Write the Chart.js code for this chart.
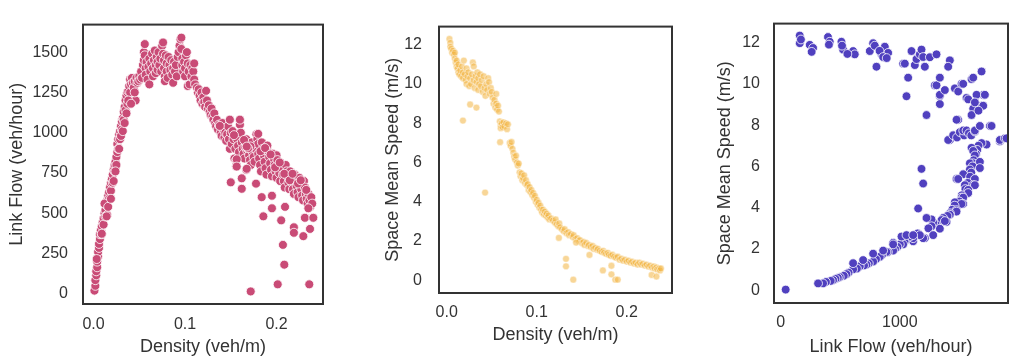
<!DOCTYPE html>
<html>
<head>
<meta charset="utf-8">
<script src="https://cdn.jsdelivr.net/npm/chart.js@4.4.1/dist/chart.umd.min.js"></script>
<style>
  html, body { margin: 0; padding: 0; background: #fff; width: 1010px; height: 358px; overflow: hidden; }
  .panel { position: absolute; top: 0; width: 340px; height: 358px; }
</style>
</head>
<body>
<div class="panel" style="left:0"><canvas id="flowDensity" width="340" height="358"></canvas></div>
<div class="panel" style="left:340px"><canvas id="speedDensity" width="340" height="358"></canvas></div>
<div class="panel" style="left:680px"><canvas id="speedFlow" width="340" height="358"></canvas></div>
<script>
// ---- data: density (veh/m) vs link flow (veh/hour) ----
const flowRising = [
  [0.001,20],[0.002,50],[0.002,85],[0.003,115],[0.003,140],[0.004,165],[0.004,200],[0.005,230],[0.005,260],
  [0.006,285],[0.006,310],[0.007,340],[0.007,370],[0.008,395],[0.009,370],[0.009,420],[0.010,445],[0.011,470],
  [0.011,430],[0.012,500],[0.013,520],[0.013,480],[0.014,550],[0.015,580],[0.015,490],[0.016,610],[0.017,630],
  [0.017,590],[0.018,660],[0.019,640],[0.019,690],[0.020,710],[0.021,740],[0.021,690],[0.022,770],[0.023,800],
  [0.023,760],[0.024,820],[0.025,850],[0.025,800],[0.026,880],[0.026,930],[0.027,960],[0.027,900],[0.028,990],
  [0.029,1010],[0.029,960],[0.030,1040],[0.031,1020],[0.031,1070],[0.032,1090],[0.033,1080],[0.033,1130],
  [0.034,1160],[0.035,1140],[0.035,1200],[0.036,1230],[0.037,1180],[0.037,1250],[0.038,1260],[0.039,1290],
  [0.040,1330],[0.040,1250],[0.041,1300],[0.042,1340],[0.043,1310],[0.044,1280],[0.045,1320],[0.046,1200],
  [0.047,1340],[0.048,1310],[0.049,1320],[0.050,1350],[0.051,1330],[0.052,1380],[0.053,1340],
  [0.0035,216],[0.009,373],[0.0144,481],[0.012,560],[0.016,540],[0.019,590],[0.022,700],[0.024,760],
  [0.028,900],[0.030,980],[0.032,1010],[0.034,1060],[0.036,1120],[0.038,1200],[0.041,1180],[0.045,1250]
];
const flowPeak = [
  [0.054,1420],[0.055,1450],[0.055,1500],[0.056,1550],[0.056,1480],[0.057,1400],[0.057,1360],[0.058,1440],
  [0.059,1330],[0.060,1410],[0.061,1300],[0.061,1460],[0.062,1380],[0.063,1430],[0.064,1490],[0.065,1400],
  [0.065,1350],[0.066,1450],[0.067,1510],[0.068,1420],[0.068,1370],[0.069,1470],[0.070,1440],[0.070,1390],
  [0.071,1500],[0.072,1420],[0.073,1460],[0.074,1380],[0.075,1540],[0.076,1560],[0.076,1490],[0.077,1450],
  [0.077,1400],[0.078,1350],[0.078,1320],[0.079,1480],[0.080,1430],[0.080,1380],[0.081,1340],[0.082,1470],
  [0.083,1420],[0.084,1390],[0.085,1450],[0.086,1360],[0.087,1310],[0.087,1400],[0.088,1440],[0.089,1380],
  [0.090,1420],[0.091,1350],[0.092,1470],[0.093,1500],[0.094,1540],[0.095,1580],[0.096,1590],[0.096,1520],
  [0.097,1460],[0.097,1420],[0.098,1380],[0.099,1440],[0.100,1400],[0.100,1350],[0.101,1480],[0.102,1500],
  [0.103,1430],[0.103,1290],[0.104,1380],[0.105,1300],[0.106,1420],[0.107,1350],[0.108,1400],[0.109,1380],
  [0.110,1430],[0.110,1330],[0.111,1300]
];
const flowFalling = [
  [0.113,1280],[0.114,1250],[0.115,1270],[0.116,1230],[0.117,1200],[0.118,1250],[0.119,1180],[0.120,1220],
  [0.121,1190],[0.122,1160],[0.123,1260],[0.124,1200],[0.125,1150],[0.126,1170],[0.127,1130],[0.128,1110],
  [0.129,1150],[0.130,1100],[0.131,1080],[0.132,1120],[0.133,1060],[0.134,1040],[0.135,1080],[0.136,1020],
  [0.137,1050],[0.138,1040],[0.139,1000],[0.140,980],[0.141,1060],[0.142,1020],[0.143,970],[0.144,1000],
  [0.145,950],[0.146,990],[0.147,1040],[0.148,960],[0.149,1080],[0.149,900],[0.150,1000],[0.151,930],
  [0.152,1010],[0.153,960],[0.154,840],[0.155,900],[0.156,830],[0.156,790],[0.157,960],[0.158,920],
  [0.159,880],[0.160,1080],[0.160,1050],[0.161,1000],[0.162,940],[0.163,900],[0.164,870],[0.165,840],
  [0.166,910],[0.167,960],[0.167,770],[0.168,890],[0.169,900],[0.170,860],[0.171,830],[0.172,800],
  [0.173,940],[0.174,880],[0.175,850],[0.176,820],[0.177,900],[0.178,990],[0.179,960],[0.180,930],
  [0.180,870],[0.181,840],[0.182,800],[0.183,760],[0.184,940],[0.185,900],[0.186,860],[0.187,820],
  [0.188,780],[0.189,740],[0.190,920],[0.191,880],[0.192,850],[0.193,810],[0.194,770],[0.195,730],
  [0.196,870],[0.197,840],[0.198,800],[0.199,760],[0.200,720],[0.200,860],[0.201,830],[0.202,790],
  [0.203,750],[0.204,700],[0.205,810],[0.206,780],[0.207,740],[0.208,700],[0.209,660],[0.210,800],
  [0.211,760],[0.212,730],[0.213,690],[0.214,650],[0.215,760],[0.216,720],[0.217,690],[0.218,650],
  [0.219,620],[0.220,740],[0.221,700],[0.222,670],[0.223,630],[0.224,600],[0.225,720],[0.226,680],
  [0.227,650],[0.228,610],[0.229,580],[0.230,700],[0.231,660],[0.232,620],[0.233,590],[0.234,560],
  [0.235,620],[0.236,580],[0.237,540],[0.238,600],[0.239,560],
  [0.1535,985],[0.1645,955],[0.1715,915],[0.1825,885],[0.1875,905],[0.1935,865],[0.1985,785],
  [0.2035,815],[0.2085,745],[0.2145,705],[0.2175,745],[0.2235,685],[0.2265,705],[0.2325,645]
];
const flowOutliers = [
  [0.150,692],[0.162,652],[0.1674,776],[0.1565,835],[0.1565,790],[0.162,717],[0.1838,600],[0.1856,481],
  [0.195,609],[0.195,531],[0.2051,456],[0.207,304],[0.2085,181],[0.2013,59],[0.1718,15],[0.2358,59],
  [0.219,413],[0.219,379],[0.2293,358],[0.2366,403],[0.231,472],[0.2348,531],[0.2402,472],[0.1776,684],
  [0.169,904],[0.138,1042],[0.149,1081],[0.160,1081],[0.2093,540],[0.1675,914],[0.180,993]
];

// ---- data: density (veh/m) vs space mean speed (m/s) ----
const speedFree = [
  [0.003,12.3],[0.004,12.1],[0.004,11.9],[0.005,11.8],[0.006,11.6],[0.007,11.7],[0.008,11.5],[0.009,11.3],
  [0.009,11.6],[0.010,11.1],[0.011,11.2],[0.011,10.9],[0.012,10.8],[0.013,10.6],[0.013,11.0],[0.014,10.5],
  [0.015,10.7],[0.016,10.4],[0.017,10.9],[0.018,10.3],[0.018,10.6],[0.019,11.2],[0.020,10.5],[0.021,10.2],
  [0.022,10.8],[0.022,10.0],[0.023,10.4],[0.024,10.6],[0.025,9.9],[0.026,10.3],[0.027,10.0],[0.028,10.5],
  [0.029,11.1],[0.030,10.9],[0.030,10.2],[0.031,9.8],[0.032,10.4],[0.033,10.1],[0.034,10.6],[0.035,10.3],
  [0.035,9.7],[0.036,10.0],[0.037,10.5],[0.038,9.9],[0.039,10.2],[0.040,9.6],[0.041,10.4],[0.042,9.8],
  [0.043,9.4],[0.044,10.0],[0.045,9.7],[0.046,10.3],[0.047,10.1],[0.048,9.5],[0.049,9.8],[0.050,9.6],
  [0.051,9.3],[0.052,9.0],[0.053,9.2],[0.054,8.8],[0.055,9.5],[0.055,9.0],[0.056,8.7],[0.057,8.9],[0.058,8.6]
];
const speedCongested = [
  [0.059,8.1],[0.060,7.9],[0.060,7.75],[0.061,8.0],[0.062,7.8],[0.063,8.05],[0.064,7.85],[0.066,8.0],
  [0.067,7.7],[0.068,7.95],[0.070,7.0],[0.071,6.85],[0.072,7.05],[0.073,6.7],[0.074,6.5],[0.075,6.3],
  [0.076,6.15],[0.077,6.35],[0.078,6.0],[0.079,5.85],[0.080,5.95],[0.081,5.5],[0.082,5.3],[0.083,5.45],
  [0.084,5.1],[0.085,5.2],[0.086,5.35],[0.087,4.95],[0.088,5.1],[0.089,4.85],[0.090,4.9],[0.091,4.6],
  [0.092,4.75],[0.093,4.5],[0.094,4.6],[0.095,4.35],[0.096,4.45],[0.097,4.2],[0.098,4.3],[0.099,4.0],
  [0.100,4.1],[0.101,3.85],[0.102,3.95],[0.103,3.7],[0.104,3.8],[0.105,3.6],[0.106,3.45],[0.107,3.6],
  [0.108,3.35],[0.109,3.5],[0.110,3.3],[0.111,3.4],[0.112,3.2],[0.113,3.3],[0.114,3.1],[0.116,3.15],
  [0.118,3.05],[0.120,2.95],[0.121,3.1],[0.122,2.85],[0.124,2.75],[0.125,2.9],[0.126,2.7],[0.128,2.6],
  [0.130,2.5],[0.131,2.6],[0.133,2.4],[0.135,2.45],[0.136,2.3],[0.138,2.35],[0.140,2.2],[0.141,2.3],
  [0.143,2.1],[0.145,2.15],[0.147,2.0],[0.148,2.05],[0.150,1.9],[0.152,1.95],[0.153,1.8],[0.155,1.9],
  [0.157,1.75],[0.158,1.8],[0.160,1.7],[0.162,1.75],[0.163,1.6],[0.165,1.65],[0.167,1.55],[0.168,1.6],
  [0.170,1.5],[0.172,1.45],[0.174,1.5],[0.175,1.4],[0.177,1.35],[0.179,1.4],[0.180,1.3],[0.182,1.25],
  [0.184,1.3],[0.186,1.2],[0.188,1.15],[0.190,1.2],[0.192,1.05],[0.194,1.1],[0.196,1.0],[0.198,1.05],
  [0.200,0.95],[0.202,1.0],[0.204,0.9],[0.206,0.95],[0.208,0.85],[0.210,0.9],[0.212,0.8],[0.214,0.9],
  [0.216,0.8],[0.218,0.85],[0.220,0.75],[0.222,0.8],[0.224,0.7],[0.226,0.75],[0.228,0.65],[0.230,0.7],
  [0.231,0.6],[0.233,0.65],[0.234,0.55],[0.236,0.6],[0.237,0.5],[0.238,0.6]
];
const speedOutliers = [
  [0.018,8.14],[0.026,8.96],[0.033,8.8],[0.0426,4.47],[0.0593,7.04],[0.1246,2.16],[0.1325,1.09],
  [0.1325,0.71],[0.1406,0.03],[0.1735,0.5],[0.183,0.74],[0.183,0.3],[0.1873,0.03],[0.19,0.03],
  [0.2277,0.27],[0.233,0.19],[0.1437,1.92],[0.1586,1.29]
];

// ---- data: link flow (veh/hour) vs space mean speed (m/s) ----
const flowSpeedUpper = [
  [160,12.34],[160,11.97],[170,12.15],[244,11.89],[272,11.74],[260,11.55],[397,12.27],[412,12.04],[405,11.9],
  [510,12.04],[524,11.66],[515,11.85],[608,11.59],[622,11.43],[560,11.45],[748,11.59],[776,11.97],[790,11.85],
  [846,11.43],[874,11.8],[902,11.5],[830,11.6],[860,11.3],[890,11.25],[1028,10.98],[1042,10.98],[1070,10.3],
  [1098,11.59],[1126,10.91],[1140,11.2],[1168,11.43],[1182,11.66],[1196,11.3],[1210,10.83],[1252,11.29],
  [1308,11.43],[1294,9.93],[1308,9.93],[1336,10.3],[1336,9.4],[1336,9.02],[1336,9.47],[1378,9.7],[1420,11.14],
  [1406,10.83],[1462,9.78],[1490,8.26],[1476,8.26],[1490,9.63],[1518,10.0],[1532,10.0],[1560,9.32],[1574,9.25],
  [1602,10.23],[1616,10.3],[1686,10.6],[1616,8.8],[1686,8.94],[1700,9.47],[1644,9.47],[1714,9.47],[1700,8.94],
  [1602,8.49],[1630,9.1],[1660,8.7]
];
const flowSpeedLower = [
  [1420,7.28],[1406,7.28],[1448,7.51],[1480,7.4],[1504,7.66],[1540,7.5],[1532,7.74],[1560,7.74],[1580,7.6],
  [1600,7.5],[1630,7.69],[1630,7.74],[1672,7.96],[1756,7.96],[1770,7.96],[1728,7.06],[1686,7.13],[1840,7.21],
  [1840,7.28],[1882,7.36],[1896,7.36],[1660,7.0],[1650,6.8],[1640,6.6],[1602,6.9],[1616,6.75],[1630,6.53],
  [1620,6.3],[1616,6.15],[1588,6.15],[1672,6.22],[1610,6.0],[1588,5.85],[1672,5.92],[1600,5.7],[1532,5.62],
  [1590,5.5],[1476,5.39],[1490,5.39],[1630,5.39],[1570,5.2],[1546,5.09],[1616,5.09],[1630,5.09],[1550,4.9],
  [1574,4.86],[1574,4.71],[1520,4.6],[1518,4.49],[1532,4.49],[1500,4.3],[1462,4.26],[1532,4.18],[1518,4.18],
  [1460,4.1],[1440,3.9],[1476,3.88],[1476,3.81],[1420,3.73],[1420,3.66],[1400,3.6],[1364,3.5],[1350,3.4],
  [1392,3.31],[1378,3.35],[1300,3.2],[1336,2.98],[1280,3.28],[1266,3.43],[1266,3.1],[1224,3.5],[1240,3.0],
  [1280,2.67],[1150,2.75],[1210,2.52],[1196,2.52],[1168,2.67],[1112,2.37],[1112,2.52],[1084,2.6],[1040,2.35],
  [1028,2.22],[1000,2.22],[980,2.1],[960,2.0],[944,1.92],[944,2.3],[900,1.85],[888,1.85],[850,1.7],[832,1.62],
  [800,1.5],[776,1.39],[740,1.3],[720,1.24],[700,1.2],[664,1.16],[640,1.05],[608,1.01],[570,0.85],[552,0.78],
  [530,0.7],[496,0.63],[480,0.6],[460,0.55],[440,0.49],[420,0.45],[380,0.4],[356,0.33],[314,0.33],
  [608,1.31],[692,1.46],[776,1.77],[860,1.92],[944,2.22],[1014,2.6],[1056,2.67],[1112,2.67]
];
const flowSpeedOutliers = [
  [42,0.03],[1182,5.88],[1196,5.17],[1154,3.96],[804,10.83],[1056,9.4],[1224,8.49]
];

// tick labels
const densityTicks = [0, 0.1, 0.2];
const flowTicks = [0, 250, 500, 750, 1000, 1250, 1500];
const speedTicks = [0, 2, 4, 6, 8, 10, 12];
const linkFlowTicks = [0, 1000];

const TEXT = '#333333';
const FONT = "'Liberation Sans', Arial, sans-serif";

// frame around the axes (seaborn style spines)
const framePlugin = {
  id: 'frame',
  afterDatasetsDraw(chart) {
    const { ctx, chartArea: a } = chart;
    ctx.save();
    ctx.strokeStyle = '#333';
    ctx.lineWidth = 2;
    ctx.strokeRect(a.left, a.top, a.right - a.left, a.bottom - a.top);
    ctx.restore();
  }
};

function toXY(list) {
  return list.map(([x, y]) => ({ x, y }));
}

function makePanel(id, cfg) {
  return new Chart(document.getElementById(id), {
    type: 'scatter',
    data: {
      datasets: [{
        data: toXY(cfg.points),
        backgroundColor: cfg.color,
        borderColor: cfg.edge,
        borderWidth: cfg.edgeWidth,
        pointRadius: cfg.radius,
        pointHoverRadius: cfg.radius
      }]
    },
    options: {
      responsive: false,
      animation: false,
      events: [],
      layout: { padding: cfg.pad },
      plugins: { legend: { display: false }, tooltip: { enabled: false } },
      scales: {
        x: {
          type: 'linear',
          min: cfg.xMin, max: cfg.xMax,
          grid: { display: false, drawTicks: false },
          border: { display: false },
          afterBuildTicks: s => { s.ticks = cfg.xTicks.map(v => ({ value: v })); },
          afterFit: s => { s.height = cfg.xH; },
          ticks: { padding: cfg.xTickPad, color: TEXT, font: { family: FONT, size: 16 }, callback: cfg.xFmt },
          title: { display: true, text: cfg.xTitle, color: TEXT, font: { family: FONT, size: 18 },
                   padding: { top: 0, bottom: cfg.xTitlePad } }
        },
        y: {
          type: 'linear',
          min: cfg.yMin, max: cfg.yMax,
          grid: { display: false, drawTicks: false },
          border: { display: false },
          afterBuildTicks: s => { s.ticks = cfg.yTicks.map(v => ({ value: v })); },
          afterFit: s => { s.width = cfg.yW; },
          ticks: { padding: cfg.yTickPad, color: TEXT, font: { family: FONT, size: 16 }, callback: v => String(v) },
          title: { display: true, text: cfg.yTitle, color: TEXT, font: { family: FONT, size: 18 },
                   padding: { top: cfg.yTitlePad, bottom: 0 } }
        }
      }
    },
    plugins: [framePlugin]
  });
}

const oneDecimal = v => v.toFixed(1);

makePanel('flowDensity', {
  points: [...flowRising, ...flowPeak, ...flowFalling, ...flowOutliers],
  color: '#c94b76', edge: '#ffffff', edgeWidth: 0.8, radius: 4.5,
  pad: { left: 0, right: 17, top: 10, bottom: 0 },
  xMin: -0.0115, xMax: 0.2508, xTicks: densityTicks, xFmt: oneDecimal, xH: 54, xTickPad: 11, xTitlePad: 0,
  xTitle: 'Density (veh/m)',
  yMin: -63, yMax: 1671, yTicks: flowTicks, yW: 83, yTickPad: 15, yTitlePad: 6,
  yTitle: 'Link Flow (veh/hour)'
});

makePanel('speedDensity', {
  points: [...speedFree, ...speedCongested, ...speedOutliers],
  color: 'rgba(242,180,65,0.55)', edge: 'rgba(255,255,255,0.55)', edgeWidth: 0.8, radius: 3.4,
  pad: { left: 0, right: 8, top: 5, bottom: 0 },
  xMin: -0.0086, xMax: 0.2503, xTicks: densityTicks, xFmt: oneDecimal, xH: 65, xTickPad: 10, xTitlePad: 12,
  xTitle: 'Density (veh/m)',
  yMin: -0.65, yMax: 12.93, yTicks: speedTicks, yW: 99, yTickPad: 17, yTitlePad: 42,
  yTitle: 'Space Mean Speed (m/s)'
});

makePanel('speedFlow', {
  points: [...flowSpeedUpper, ...flowSpeedLower, ...flowSpeedOutliers],
  color: '#5040bf', edge: '#ffffff', edgeWidth: 0.8, radius: 4.4,
  pad: { left: 0, right: 12, top: 4, bottom: 0 },
  xMin: -56, xMax: 1908, xTicks: linkFlowTicks, xFmt: v => String(v), xH: 55, xTickPad: 10, xTitlePad: 0,
  xTitle: 'Link Flow (veh/hour)',
  yMin: -0.62, yMax: 12.92, yTicks: speedTicks, yW: 94, yTickPad: 14, yTitlePad: 34,
  yTitle: 'Space Mean Speed (m/s)'
});
</script>
</body>
</html>
